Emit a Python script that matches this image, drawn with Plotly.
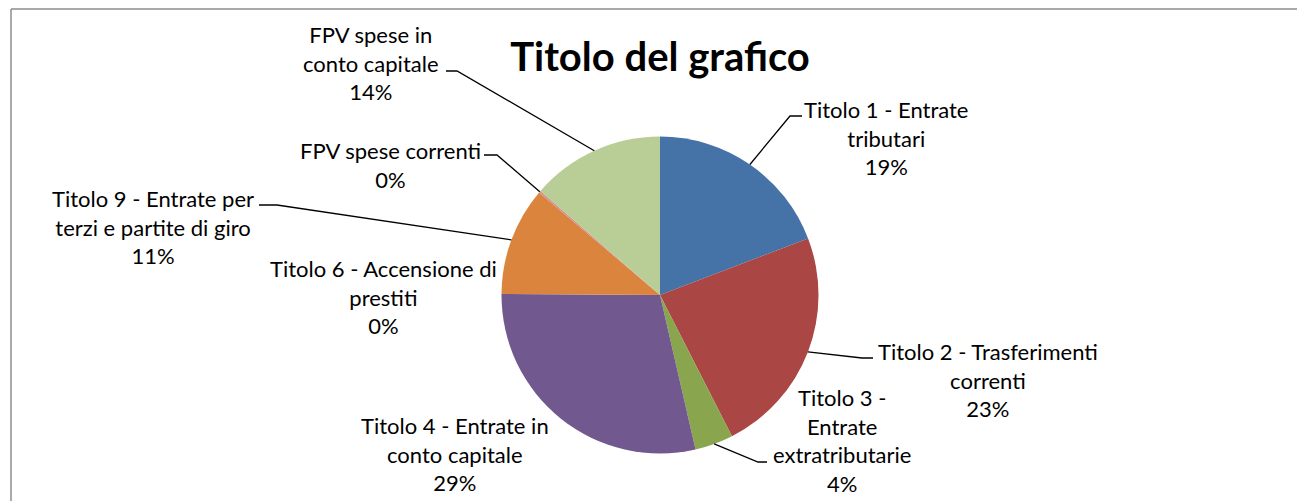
import math
import plotly.graph_objects as go

# ---------------- data ----------------
categories = [
    "Titolo 1 - Entrate tributari",
    "Titolo 2 - Trasferimenti correnti",
    "Titolo 3 - Entrate extratributarie",
    "Titolo 4 - Entrate in conto capitale",
    "Titolo 6 - Accensione di prestiti",
    "Titolo 9 - Entrate per terzi e partite di giro",
    "FPV spese correnti",
    "FPV spese in conto capitale",
]
values = [19.2, 23.3, 3.9, 28.7, 0.0, 11.1, 0.2, 13.6]
wrapped_names = [
    ["Titolo 1 - Entrate", "tributari"],
    ["Titolo 2 - Trasferimenti", "correnti"],
    ["Titolo 3 -", "Entrate", "extratributarie"],
    ["Titolo 4 - Entrate in", "conto capitale"],
    ["Titolo 6 - Accensione di", "prestiti"],
    ["Titolo 9 - Entrate per", "terzi e partite di giro"],
    ["FPV spese correnti"],
    ["FPV spese in", "conto capitale"],
]
colors = ["#4572A7", "#AA4643", "#89A54E", "#71588F", "#4198AF",
          "#DB843D", "#D19392", "#B9CD96"]
title_text = "Titolo del grafico"

# ---------------- layout constants (pixels) ----------------
W, H = 1297, 501
CX, CY, R = 660.0, 295.0, 158.5
FONT = "Lato"

# label block centres
label_centres = [
    (886, 138), (988, 380), (842, 440), (455, 454),
    (383, 297), (153, 227), (390, 165), (371, 63),
]
# leader lines: (end at text, elbow) or None
leaders = [
    ((802, 116), (790, 116)),
    ((873, 358), (862, 358)),
    ((767, 462), (758, 462)),
    None,
    None,
    ((259, 205), (277, 205)),
    ((484, 155), (497, 155)),
    ((446, 71), (457, 71)),
]


def px(x):
    return x / W


def py(y):
    return 1 - y / H


total = sum(values)
fig = go.Figure()
fig.add_trace(go.Pie(
    labels=categories,
    values=values,
    sort=False,
    direction="clockwise",
    rotation=0,
    textinfo="none",
    marker=dict(colors=colors, line=dict(width=0)),
    domain=dict(x=[px(CX - R), px(CX + R)], y=[py(CY + R), py(CY - R)]),
    showlegend=False,
    hoverinfo="label+percent",
))

annotations = []
shapes = []
cum = 0.0
for name_lines, v, (lx, ly), leader in zip(wrapped_names, values, label_centres, leaders):
    pct = round(v / total * 100)
    text = "<br>".join(name_lines + [f"{pct}%"])
    annotations.append(dict(
        x=px(lx), y=py(ly), xref="paper", yref="paper",
        text=text, showarrow=False, xanchor="center", yanchor="middle",
        align="center", font=dict(family=FONT, size=22, color="#000000"),
    ))
    mid = (cum + v / 2) / total * 2 * math.pi
    cum += v
    if leader is not None:
        ex = CX + R * math.sin(mid)
        ey = CY - R * math.cos(mid)
        (tx, ty), (bx, by) = leader
        path = (f"M {px(ex)} {py(ey)} L {px(bx)} {py(by)} L {px(tx)} {py(ty)}")
        shapes.append(dict(type="path", xref="paper", yref="paper", path=path,
                           line=dict(color="#000000", width=1.3)))

# chart area border (top and left visible)
shapes.append(dict(type="line", xref="paper", yref="paper",
                   x0=px(11), y0=py(9), x1=px(W + 5), y1=py(9),
                   line=dict(color="#8C8C8C", width=1.5)))
shapes.append(dict(type="line", xref="paper", yref="paper",
                   x0=px(11), y0=py(9), x1=px(11), y1=py(H + 5),
                   line=dict(color="#8C8C8C", width=1.5)))

fig.update_layout(
    width=W, height=H,
    margin=dict(l=0, r=0, t=0, b=0),
    paper_bgcolor="#FFFFFF",
    plot_bgcolor="#FFFFFF",
    title=dict(text=f"<b>{title_text}</b>", x=px(660), y=py(57),
               xanchor="center", yanchor="middle",
               font=dict(family=FONT, size=40, color="#000000")),
    annotations=annotations,
    shapes=shapes,
)

fig.write_html("out.html")
